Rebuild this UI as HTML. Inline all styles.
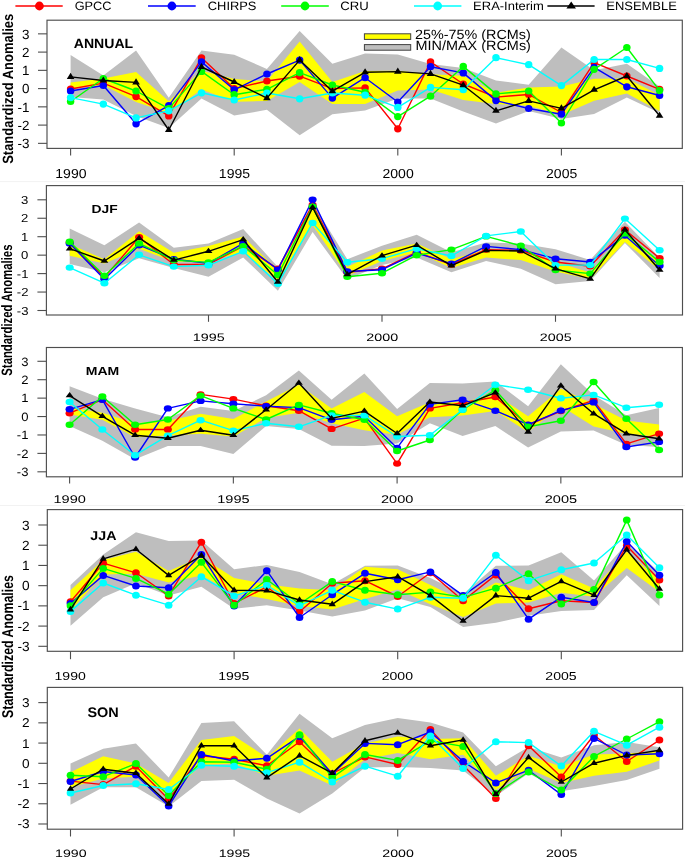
<!DOCTYPE html><html><head><meta charset="utf-8"><style>html,body{margin:0;padding:0;background:#fff;}svg{display:block;filter:blur(0.4px);}text{text-rendering:geometricPrecision;font-family:'Liberation Sans', sans-serif;fill:#000;stroke:#000;stroke-width:0.0px;}</style></head><body>
<svg width="685" height="859" viewBox="0 0 685 859">
<rect x="0" y="0" width="685" height="859" fill="#fff"/>
<line x1="0" y1="181.6" x2="685" y2="181.6" stroke="#f2f2f2" stroke-width="1"/>
<line x1="0" y1="505.5" x2="685" y2="505.5" stroke="#f2f2f2" stroke-width="1"/>
<line x1="15.4" y1="6.0" x2="62.7" y2="6.0" stroke="#ff0000" stroke-width="1.5"/>
<circle cx="39.4" cy="6" r="4.4" fill="#ff0000"/>
<text x="74.71" y="10" font-size="12.08" textLength="36.81" lengthAdjust="spacingAndGlyphs">GPCC</text>
<line x1="148.0" y1="6.0" x2="195.7" y2="6.0" stroke="#0000ff" stroke-width="1.5"/>
<circle cx="171.9" cy="6" r="4.4" fill="#0000ff"/>
<text x="207.79" y="10" font-size="12.08" textLength="48.67" lengthAdjust="spacingAndGlyphs">CHIRPS</text>
<line x1="281.2" y1="6.0" x2="328.8" y2="6.0" stroke="#00ff00" stroke-width="1.5"/>
<circle cx="305" cy="6" r="4.4" fill="#00ff00"/>
<text x="340.3" y="10" font-size="12.08" textLength="28.43" lengthAdjust="spacingAndGlyphs">CRU</text>
<line x1="414.0" y1="6.0" x2="461.4" y2="6.0" stroke="#00ffff" stroke-width="1.5"/>
<circle cx="437.7" cy="6" r="4.4" fill="#00ffff"/>
<text x="473.12" y="10" font-size="12.08" textLength="70.67" lengthAdjust="spacingAndGlyphs">ERA-Interim</text>
<line x1="547.4" y1="6.0" x2="594.6" y2="6.0" stroke="#000000" stroke-width="1.5"/>
<polygon points="571.2,1.4 576,8.4 566.4,8.4" fill="#000"/>
<text x="606.34" y="10" font-size="12.08" textLength="70.52" lengthAdjust="spacingAndGlyphs">ENSEMBLE</text>
<polygon points="70.6,54.9 103.32,75.5 136.04,50.5 168.76,97.7 201.48,50.5 234.2,54.7 266.92,68.9 299.64,31 332.36,63.8 365.08,53.6 397.8,54.6 430.52,64.1 463.24,68 495.96,80.4 528.68,84.8 561.4,47.6 594.12,70.3 626.84,63.7 659.56,86.4 659.56,113 626.84,97.5 594.12,113.9 561.4,119 528.68,111.1 495.96,123.4 463.24,111.5 430.52,98.4 397.8,98.4 365.08,110.5 332.36,114.2 299.64,135.3 266.92,109.8 234.2,115.6 201.48,98.4 168.76,128 136.04,116 103.32,99.5 70.6,96.9" fill="#bebebe"/>
<polygon points="70.6,82.4 103.32,78.5 136.04,71.9 168.76,101.3 201.48,70.7 234.2,79.1 266.92,81.3 299.64,41.6 332.36,82 365.08,71.1 397.8,70.7 430.52,74.3 463.24,75.8 495.96,92.7 528.68,87.4 561.4,86.4 594.12,78.8 626.84,78.5 659.56,95 659.56,111.1 626.84,93.5 594.12,100.7 561.4,114.9 528.68,105.8 495.96,104.1 463.24,99.9 430.52,89.6 397.8,90.4 365.08,103.9 332.36,103.9 299.64,82 266.92,101 234.2,101.8 201.48,89.6 168.76,113 136.04,102 103.32,85.1 70.6,88.4" fill="#ffff00"/>
<polyline points="70.6,89 103.32,83.1 136.04,96.6 168.76,115.9 201.48,57.8 234.2,88.6 266.92,81 299.64,76.2 332.36,88.6 365.08,87.9 397.8,128.8 430.52,61.9 463.24,84 495.96,97.1 528.68,94.5 561.4,112.5 594.12,62.7 626.84,76 659.56,89.3" fill="none" stroke="#ff0000" stroke-width="1.4" stroke-linejoin="round"/>
<ellipse cx="70.6" cy="89" rx="3.75" ry="3.6" fill="#ff0000"/>
<ellipse cx="103.32" cy="83.1" rx="3.75" ry="3.6" fill="#ff0000"/>
<ellipse cx="136.04" cy="96.6" rx="3.75" ry="3.6" fill="#ff0000"/>
<ellipse cx="168.76" cy="115.9" rx="3.75" ry="3.6" fill="#ff0000"/>
<ellipse cx="201.48" cy="57.8" rx="3.75" ry="3.6" fill="#ff0000"/>
<ellipse cx="234.2" cy="88.6" rx="3.75" ry="3.6" fill="#ff0000"/>
<ellipse cx="266.92" cy="81" rx="3.75" ry="3.6" fill="#ff0000"/>
<ellipse cx="299.64" cy="76.2" rx="3.75" ry="3.6" fill="#ff0000"/>
<ellipse cx="332.36" cy="88.6" rx="3.75" ry="3.6" fill="#ff0000"/>
<ellipse cx="365.08" cy="87.9" rx="3.75" ry="3.6" fill="#ff0000"/>
<ellipse cx="397.8" cy="128.8" rx="3.75" ry="3.6" fill="#ff0000"/>
<ellipse cx="430.52" cy="61.9" rx="3.75" ry="3.6" fill="#ff0000"/>
<ellipse cx="463.24" cy="84" rx="3.75" ry="3.6" fill="#ff0000"/>
<ellipse cx="495.96" cy="97.1" rx="3.75" ry="3.6" fill="#ff0000"/>
<ellipse cx="528.68" cy="94.5" rx="3.75" ry="3.6" fill="#ff0000"/>
<ellipse cx="561.4" cy="112.5" rx="3.75" ry="3.6" fill="#ff0000"/>
<ellipse cx="594.12" cy="62.7" rx="3.75" ry="3.6" fill="#ff0000"/>
<ellipse cx="626.84" cy="76" rx="3.75" ry="3.6" fill="#ff0000"/>
<ellipse cx="659.56" cy="89.3" rx="3.75" ry="3.6" fill="#ff0000"/>
<polyline points="70.6,91 103.32,85.5 136.04,123.8 168.76,105.7 201.48,61.9 234.2,89.8 266.92,74 299.64,60.1 332.36,98.1 365.08,77.7 397.8,102 430.52,66.7 463.24,72.9 495.96,100.6 528.68,108.5 561.4,114.2 594.12,67.4 626.84,86.8 659.56,95.5" fill="none" stroke="#0000ff" stroke-width="1.4" stroke-linejoin="round"/>
<ellipse cx="70.6" cy="91" rx="3.75" ry="3.6" fill="#0000ff"/>
<ellipse cx="103.32" cy="85.5" rx="3.75" ry="3.6" fill="#0000ff"/>
<ellipse cx="136.04" cy="123.8" rx="3.75" ry="3.6" fill="#0000ff"/>
<ellipse cx="168.76" cy="105.7" rx="3.75" ry="3.6" fill="#0000ff"/>
<ellipse cx="201.48" cy="61.9" rx="3.75" ry="3.6" fill="#0000ff"/>
<ellipse cx="234.2" cy="89.8" rx="3.75" ry="3.6" fill="#0000ff"/>
<ellipse cx="266.92" cy="74" rx="3.75" ry="3.6" fill="#0000ff"/>
<ellipse cx="299.64" cy="60.1" rx="3.75" ry="3.6" fill="#0000ff"/>
<ellipse cx="332.36" cy="98.1" rx="3.75" ry="3.6" fill="#0000ff"/>
<ellipse cx="365.08" cy="77.7" rx="3.75" ry="3.6" fill="#0000ff"/>
<ellipse cx="397.8" cy="102" rx="3.75" ry="3.6" fill="#0000ff"/>
<ellipse cx="430.52" cy="66.7" rx="3.75" ry="3.6" fill="#0000ff"/>
<ellipse cx="463.24" cy="72.9" rx="3.75" ry="3.6" fill="#0000ff"/>
<ellipse cx="495.96" cy="100.6" rx="3.75" ry="3.6" fill="#0000ff"/>
<ellipse cx="528.68" cy="108.5" rx="3.75" ry="3.6" fill="#0000ff"/>
<ellipse cx="561.4" cy="114.2" rx="3.75" ry="3.6" fill="#0000ff"/>
<ellipse cx="594.12" cy="67.4" rx="3.75" ry="3.6" fill="#0000ff"/>
<ellipse cx="626.84" cy="86.8" rx="3.75" ry="3.6" fill="#0000ff"/>
<ellipse cx="659.56" cy="95.5" rx="3.75" ry="3.6" fill="#0000ff"/>
<polyline points="70.6,101.5 103.32,78.5 136.04,91 168.76,108.6 201.48,71.4 234.2,94.7 266.92,89.3 299.64,72.6 332.36,85 365.08,92.3 397.8,116.6 430.52,96.2 463.24,66.4 495.96,93.9 528.68,91 561.4,123 594.12,69.3 626.84,47.5 659.56,90.6" fill="none" stroke="#00ff00" stroke-width="1.4" stroke-linejoin="round"/>
<ellipse cx="70.6" cy="101.5" rx="3.75" ry="3.6" fill="#00ff00"/>
<ellipse cx="103.32" cy="78.5" rx="3.75" ry="3.6" fill="#00ff00"/>
<ellipse cx="136.04" cy="91" rx="3.75" ry="3.6" fill="#00ff00"/>
<ellipse cx="168.76" cy="108.6" rx="3.75" ry="3.6" fill="#00ff00"/>
<ellipse cx="201.48" cy="71.4" rx="3.75" ry="3.6" fill="#00ff00"/>
<ellipse cx="234.2" cy="94.7" rx="3.75" ry="3.6" fill="#00ff00"/>
<ellipse cx="266.92" cy="89.3" rx="3.75" ry="3.6" fill="#00ff00"/>
<ellipse cx="299.64" cy="72.6" rx="3.75" ry="3.6" fill="#00ff00"/>
<ellipse cx="332.36" cy="85" rx="3.75" ry="3.6" fill="#00ff00"/>
<ellipse cx="365.08" cy="92.3" rx="3.75" ry="3.6" fill="#00ff00"/>
<ellipse cx="397.8" cy="116.6" rx="3.75" ry="3.6" fill="#00ff00"/>
<ellipse cx="430.52" cy="96.2" rx="3.75" ry="3.6" fill="#00ff00"/>
<ellipse cx="463.24" cy="66.4" rx="3.75" ry="3.6" fill="#00ff00"/>
<ellipse cx="495.96" cy="93.9" rx="3.75" ry="3.6" fill="#00ff00"/>
<ellipse cx="528.68" cy="91" rx="3.75" ry="3.6" fill="#00ff00"/>
<ellipse cx="561.4" cy="123" rx="3.75" ry="3.6" fill="#00ff00"/>
<ellipse cx="594.12" cy="69.3" rx="3.75" ry="3.6" fill="#00ff00"/>
<ellipse cx="626.84" cy="47.5" rx="3.75" ry="3.6" fill="#00ff00"/>
<ellipse cx="659.56" cy="90.6" rx="3.75" ry="3.6" fill="#00ff00"/>
<polyline points="70.6,97.6 103.32,104.1 136.04,117.9 168.76,110.8 201.48,92.8 234.2,100 266.92,93 299.64,98.8 332.36,93 365.08,95.2 397.8,107.4 430.52,87.4 463.24,89.7 495.96,57.7 528.68,64.7 561.4,85.6 594.12,59.5 626.84,59.5 659.56,68.4" fill="none" stroke="#00ffff" stroke-width="1.4" stroke-linejoin="round"/>
<ellipse cx="70.6" cy="97.6" rx="3.75" ry="3.6" fill="#00ffff"/>
<ellipse cx="103.32" cy="104.1" rx="3.75" ry="3.6" fill="#00ffff"/>
<ellipse cx="136.04" cy="117.9" rx="3.75" ry="3.6" fill="#00ffff"/>
<ellipse cx="168.76" cy="110.8" rx="3.75" ry="3.6" fill="#00ffff"/>
<ellipse cx="201.48" cy="92.8" rx="3.75" ry="3.6" fill="#00ffff"/>
<ellipse cx="234.2" cy="100" rx="3.75" ry="3.6" fill="#00ffff"/>
<ellipse cx="266.92" cy="93" rx="3.75" ry="3.6" fill="#00ffff"/>
<ellipse cx="299.64" cy="98.8" rx="3.75" ry="3.6" fill="#00ffff"/>
<ellipse cx="332.36" cy="93" rx="3.75" ry="3.6" fill="#00ffff"/>
<ellipse cx="365.08" cy="95.2" rx="3.75" ry="3.6" fill="#00ffff"/>
<ellipse cx="397.8" cy="107.4" rx="3.75" ry="3.6" fill="#00ffff"/>
<ellipse cx="430.52" cy="87.4" rx="3.75" ry="3.6" fill="#00ffff"/>
<ellipse cx="463.24" cy="89.7" rx="3.75" ry="3.6" fill="#00ffff"/>
<ellipse cx="495.96" cy="57.7" rx="3.75" ry="3.6" fill="#00ffff"/>
<ellipse cx="528.68" cy="64.7" rx="3.75" ry="3.6" fill="#00ffff"/>
<ellipse cx="561.4" cy="85.6" rx="3.75" ry="3.6" fill="#00ffff"/>
<ellipse cx="594.12" cy="59.5" rx="3.75" ry="3.6" fill="#00ffff"/>
<ellipse cx="626.84" cy="59.5" rx="3.75" ry="3.6" fill="#00ffff"/>
<ellipse cx="659.56" cy="68.4" rx="3.75" ry="3.6" fill="#00ffff"/>
<polyline points="70.6,76.9 103.32,80.5 136.04,82.4 168.76,130 201.48,67 234.2,82 266.92,98.1 299.64,60.1 332.36,91.2 365.08,72.3 397.8,71.6 430.52,73.9 463.24,85.2 495.96,110.8 528.68,100.9 561.4,108.4 594.12,89.8 626.84,76 659.56,115.8" fill="none" stroke="#000000" stroke-width="1.4" stroke-linejoin="round"/>
<polygon points="70.6,72.83 74.4,78.93 66.8,78.93" fill="#000"/>
<polygon points="103.32,76.43 107.12,82.53 99.52,82.53" fill="#000"/>
<polygon points="136.04,78.33 139.84,84.43 132.24,84.43" fill="#000"/>
<polygon points="168.76,125.93 172.56,132.03 164.96,132.03" fill="#000"/>
<polygon points="201.48,62.93 205.28,69.03 197.68,69.03" fill="#000"/>
<polygon points="234.2,77.93 238,84.03 230.4,84.03" fill="#000"/>
<polygon points="266.92,94.03 270.72,100.13 263.12,100.13" fill="#000"/>
<polygon points="299.64,56.03 303.44,62.13 295.84,62.13" fill="#000"/>
<polygon points="332.36,87.13 336.16,93.23 328.56,93.23" fill="#000"/>
<polygon points="365.08,68.23 368.88,74.33 361.28,74.33" fill="#000"/>
<polygon points="397.8,67.53 401.6,73.63 394,73.63" fill="#000"/>
<polygon points="430.52,69.83 434.32,75.93 426.72,75.93" fill="#000"/>
<polygon points="463.24,81.13 467.04,87.23 459.44,87.23" fill="#000"/>
<polygon points="495.96,106.73 499.76,112.83 492.16,112.83" fill="#000"/>
<polygon points="528.68,96.83 532.48,102.93 524.88,102.93" fill="#000"/>
<polygon points="561.4,104.33 565.2,110.43 557.6,110.43" fill="#000"/>
<polygon points="594.12,85.73 597.92,91.83 590.32,91.83" fill="#000"/>
<polygon points="626.84,71.93 630.64,78.03 623.04,78.03" fill="#000"/>
<polygon points="659.56,111.73 663.36,117.83 655.76,117.83" fill="#000"/>
<rect x="47" y="20.2" width="635.3" height="128.2" fill="none" stroke="#4e4e4e" stroke-width="1.15"/>
<line x1="38" y1="143.35" x2="47" y2="143.35" stroke="#4e4e4e" stroke-width="1.1"/>
<text x="17.45" y="148.13" font-size="13.3" textLength="11.94" lengthAdjust="spacingAndGlyphs">-3</text>
<line x1="38" y1="125.1" x2="47" y2="125.1" stroke="#4e4e4e" stroke-width="1.1"/>
<text x="17.45" y="129.88" font-size="13.3" textLength="11.94" lengthAdjust="spacingAndGlyphs">-2</text>
<line x1="38" y1="106.85" x2="47" y2="106.85" stroke="#4e4e4e" stroke-width="1.1"/>
<text x="17.45" y="111.63" font-size="13.3" textLength="11.94" lengthAdjust="spacingAndGlyphs">-1</text>
<line x1="38" y1="88.6" x2="47" y2="88.6" stroke="#4e4e4e" stroke-width="1.1"/>
<text x="21.92" y="93.38" font-size="13.3" textLength="7.47" lengthAdjust="spacingAndGlyphs">0</text>
<line x1="38" y1="70.35" x2="47" y2="70.35" stroke="#4e4e4e" stroke-width="1.1"/>
<text x="21.92" y="75.13" font-size="13.3" textLength="7.47" lengthAdjust="spacingAndGlyphs">1</text>
<line x1="38" y1="52.1" x2="47" y2="52.1" stroke="#4e4e4e" stroke-width="1.1"/>
<text x="21.92" y="56.88" font-size="13.3" textLength="7.47" lengthAdjust="spacingAndGlyphs">2</text>
<line x1="38" y1="33.85" x2="47" y2="33.85" stroke="#4e4e4e" stroke-width="1.1"/>
<text x="21.92" y="38.63" font-size="13.3" textLength="7.47" lengthAdjust="spacingAndGlyphs">3</text>
<line x1="70.6" y1="148.4" x2="70.6" y2="155.6" stroke="#4e4e4e" stroke-width="1.1"/>
<text x="55.27" y="178.18" font-size="13.08" textLength="31.22" lengthAdjust="spacingAndGlyphs">1990</text>
<line x1="234.2" y1="148.4" x2="234.2" y2="155.6" stroke="#4e4e4e" stroke-width="1.1"/>
<text x="218.87" y="178.18" font-size="13.08" textLength="31.22" lengthAdjust="spacingAndGlyphs">1995</text>
<line x1="397.8" y1="148.4" x2="397.8" y2="155.6" stroke="#4e4e4e" stroke-width="1.1"/>
<text x="382.47" y="178.18" font-size="13.08" textLength="31.22" lengthAdjust="spacingAndGlyphs">2000</text>
<line x1="561.4" y1="148.4" x2="561.4" y2="155.6" stroke="#4e4e4e" stroke-width="1.1"/>
<text x="546.07" y="178.18" font-size="13.08" textLength="31.22" lengthAdjust="spacingAndGlyphs">2005</text>
<text x="73.8" y="48.1" font-size="13.35" textLength="59.42" lengthAdjust="spacingAndGlyphs" font-weight="bold">ANNUAL</text>
<polygon points="69.7,228.5 104.4,245.2 139.1,222.4 173.8,247.8 208.5,243.4 243.2,228.9 277.9,267 312.6,203.1 347.3,259.2 382,245.7 416.7,234.7 451.4,252.2 486.1,242.6 520.8,243.4 555.5,249.3 590.2,259.9 624.9,221.8 659.6,257.7 659.6,277.9 624.9,242.9 590.2,281 555.5,284.2 520.8,268.8 486.1,261 451.4,272.3 416.7,257.4 382,265 347.3,279.3 312.6,232 277.9,290.7 243.2,257.4 208.5,276.7 173.8,268 139.1,258.3 104.4,272.3 69.7,264" fill="#bebebe"/>
<polygon points="69.7,244.3 104.4,259.2 139.1,231.2 173.8,252.7 208.5,246.1 243.2,236.4 277.9,270.6 312.6,207.5 347.3,267.1 382,250.4 416.7,243.4 451.4,259.2 486.1,249.6 520.8,250.4 555.5,262 590.2,272.6 624.9,232.3 659.6,262 659.6,270 624.9,241.9 590.2,278.9 555.5,271.5 520.8,260.1 486.1,257.5 451.4,268 416.7,252.2 382,261 347.3,275.8 312.6,225 277.9,281.1 243.2,252.2 208.5,261 173.8,261.8 139.1,248.7 104.4,263.6 69.7,255.7" fill="#ffff00"/>
<polyline points="69.7,242.6 104.4,277.5 139.1,237.3 173.8,264.5 208.5,264.5 243.2,246.1 277.9,268.8 312.6,204.9 347.3,272.3 382,268.8 416.7,252.2 451.4,264.5 486.1,249.6 520.8,250.4 555.5,262 590.2,266.2 624.9,229.8 659.6,258.2" fill="none" stroke="#ff0000" stroke-width="1.4" stroke-linejoin="round"/>
<ellipse cx="69.7" cy="242.6" rx="4.05" ry="3.2" fill="#ff0000"/>
<ellipse cx="104.4" cy="277.5" rx="4.05" ry="3.2" fill="#ff0000"/>
<ellipse cx="139.1" cy="237.3" rx="4.05" ry="3.2" fill="#ff0000"/>
<ellipse cx="173.8" cy="264.5" rx="4.05" ry="3.2" fill="#ff0000"/>
<ellipse cx="208.5" cy="264.5" rx="4.05" ry="3.2" fill="#ff0000"/>
<ellipse cx="243.2" cy="246.1" rx="4.05" ry="3.2" fill="#ff0000"/>
<ellipse cx="277.9" cy="268.8" rx="4.05" ry="3.2" fill="#ff0000"/>
<ellipse cx="312.6" cy="204.9" rx="4.05" ry="3.2" fill="#ff0000"/>
<ellipse cx="347.3" cy="272.3" rx="4.05" ry="3.2" fill="#ff0000"/>
<ellipse cx="382" cy="268.8" rx="4.05" ry="3.2" fill="#ff0000"/>
<ellipse cx="416.7" cy="252.2" rx="4.05" ry="3.2" fill="#ff0000"/>
<ellipse cx="451.4" cy="264.5" rx="4.05" ry="3.2" fill="#ff0000"/>
<ellipse cx="486.1" cy="249.6" rx="4.05" ry="3.2" fill="#ff0000"/>
<ellipse cx="520.8" cy="250.4" rx="4.05" ry="3.2" fill="#ff0000"/>
<ellipse cx="555.5" cy="262" rx="4.05" ry="3.2" fill="#ff0000"/>
<ellipse cx="590.2" cy="266.2" rx="4.05" ry="3.2" fill="#ff0000"/>
<ellipse cx="624.9" cy="229.8" rx="4.05" ry="3.2" fill="#ff0000"/>
<ellipse cx="659.6" cy="258.2" rx="4.05" ry="3.2" fill="#ff0000"/>
<polyline points="69.7,243.4 104.4,279.3 139.1,245.2 173.8,259.2 208.5,263.3 243.2,243.4 277.9,269.7 312.6,199.6 347.3,271.5 382,269.7 416.7,253.1 451.4,263.6 486.1,246.4 520.8,249.6 555.5,258.8 590.2,262 624.9,235.5 659.6,265.8" fill="none" stroke="#0000ff" stroke-width="1.4" stroke-linejoin="round"/>
<ellipse cx="69.7" cy="243.4" rx="4.05" ry="3.2" fill="#0000ff"/>
<ellipse cx="104.4" cy="279.3" rx="4.05" ry="3.2" fill="#0000ff"/>
<ellipse cx="139.1" cy="245.2" rx="4.05" ry="3.2" fill="#0000ff"/>
<ellipse cx="173.8" cy="259.2" rx="4.05" ry="3.2" fill="#0000ff"/>
<ellipse cx="208.5" cy="263.3" rx="4.05" ry="3.2" fill="#0000ff"/>
<ellipse cx="243.2" cy="243.4" rx="4.05" ry="3.2" fill="#0000ff"/>
<ellipse cx="277.9" cy="269.7" rx="4.05" ry="3.2" fill="#0000ff"/>
<ellipse cx="312.6" cy="199.6" rx="4.05" ry="3.2" fill="#0000ff"/>
<ellipse cx="347.3" cy="271.5" rx="4.05" ry="3.2" fill="#0000ff"/>
<ellipse cx="382" cy="269.7" rx="4.05" ry="3.2" fill="#0000ff"/>
<ellipse cx="416.7" cy="253.1" rx="4.05" ry="3.2" fill="#0000ff"/>
<ellipse cx="451.4" cy="263.6" rx="4.05" ry="3.2" fill="#0000ff"/>
<ellipse cx="486.1" cy="246.4" rx="4.05" ry="3.2" fill="#0000ff"/>
<ellipse cx="520.8" cy="249.6" rx="4.05" ry="3.2" fill="#0000ff"/>
<ellipse cx="555.5" cy="258.8" rx="4.05" ry="3.2" fill="#0000ff"/>
<ellipse cx="590.2" cy="262" rx="4.05" ry="3.2" fill="#0000ff"/>
<ellipse cx="624.9" cy="235.5" rx="4.05" ry="3.2" fill="#0000ff"/>
<ellipse cx="659.6" cy="265.8" rx="4.05" ry="3.2" fill="#0000ff"/>
<polyline points="69.7,241.7 104.4,275.8 139.1,243.4 173.8,260.1 208.5,262.4 243.2,246.1 277.9,275 312.6,206.6 347.3,276.7 382,273.2 416.7,255.2 451.4,249.6 486.1,236.4 520.8,245.7 555.5,270 590.2,273.6 624.9,233.4 659.6,262" fill="none" stroke="#00ff00" stroke-width="1.4" stroke-linejoin="round"/>
<ellipse cx="69.7" cy="241.7" rx="4.05" ry="3.2" fill="#00ff00"/>
<ellipse cx="104.4" cy="275.8" rx="4.05" ry="3.2" fill="#00ff00"/>
<ellipse cx="139.1" cy="243.4" rx="4.05" ry="3.2" fill="#00ff00"/>
<ellipse cx="173.8" cy="260.1" rx="4.05" ry="3.2" fill="#00ff00"/>
<ellipse cx="208.5" cy="262.4" rx="4.05" ry="3.2" fill="#00ff00"/>
<ellipse cx="243.2" cy="246.1" rx="4.05" ry="3.2" fill="#00ff00"/>
<ellipse cx="277.9" cy="275" rx="4.05" ry="3.2" fill="#00ff00"/>
<ellipse cx="312.6" cy="206.6" rx="4.05" ry="3.2" fill="#00ff00"/>
<ellipse cx="347.3" cy="276.7" rx="4.05" ry="3.2" fill="#00ff00"/>
<ellipse cx="382" cy="273.2" rx="4.05" ry="3.2" fill="#00ff00"/>
<ellipse cx="416.7" cy="255.2" rx="4.05" ry="3.2" fill="#00ff00"/>
<ellipse cx="451.4" cy="249.6" rx="4.05" ry="3.2" fill="#00ff00"/>
<ellipse cx="486.1" cy="236.4" rx="4.05" ry="3.2" fill="#00ff00"/>
<ellipse cx="520.8" cy="245.7" rx="4.05" ry="3.2" fill="#00ff00"/>
<ellipse cx="555.5" cy="270" rx="4.05" ry="3.2" fill="#00ff00"/>
<ellipse cx="590.2" cy="273.6" rx="4.05" ry="3.2" fill="#00ff00"/>
<ellipse cx="624.9" cy="233.4" rx="4.05" ry="3.2" fill="#00ff00"/>
<ellipse cx="659.6" cy="262" rx="4.05" ry="3.2" fill="#00ff00"/>
<polyline points="69.7,267.6 104.4,283.2 139.1,254.8 173.8,266.6 208.5,265.3 243.2,251.3 277.9,283.7 312.6,222.9 347.3,262.2 382,258.7 416.7,248.7 451.4,256 486.1,235.9 520.8,231.5 555.5,265.1 590.2,265.1 624.9,218.6 659.6,250.3" fill="none" stroke="#00ffff" stroke-width="1.4" stroke-linejoin="round"/>
<ellipse cx="69.7" cy="267.6" rx="4.05" ry="3.2" fill="#00ffff"/>
<ellipse cx="104.4" cy="283.2" rx="4.05" ry="3.2" fill="#00ffff"/>
<ellipse cx="139.1" cy="254.8" rx="4.05" ry="3.2" fill="#00ffff"/>
<ellipse cx="173.8" cy="266.6" rx="4.05" ry="3.2" fill="#00ffff"/>
<ellipse cx="208.5" cy="265.3" rx="4.05" ry="3.2" fill="#00ffff"/>
<ellipse cx="243.2" cy="251.3" rx="4.05" ry="3.2" fill="#00ffff"/>
<ellipse cx="277.9" cy="283.7" rx="4.05" ry="3.2" fill="#00ffff"/>
<ellipse cx="312.6" cy="222.9" rx="4.05" ry="3.2" fill="#00ffff"/>
<ellipse cx="347.3" cy="262.2" rx="4.05" ry="3.2" fill="#00ffff"/>
<ellipse cx="382" cy="258.7" rx="4.05" ry="3.2" fill="#00ffff"/>
<ellipse cx="416.7" cy="248.7" rx="4.05" ry="3.2" fill="#00ffff"/>
<ellipse cx="451.4" cy="256" rx="4.05" ry="3.2" fill="#00ffff"/>
<ellipse cx="486.1" cy="235.9" rx="4.05" ry="3.2" fill="#00ffff"/>
<ellipse cx="520.8" cy="231.5" rx="4.05" ry="3.2" fill="#00ffff"/>
<ellipse cx="555.5" cy="265.1" rx="4.05" ry="3.2" fill="#00ffff"/>
<ellipse cx="590.2" cy="265.1" rx="4.05" ry="3.2" fill="#00ffff"/>
<ellipse cx="624.9" cy="218.6" rx="4.05" ry="3.2" fill="#00ffff"/>
<ellipse cx="659.6" cy="250.3" rx="4.05" ry="3.2" fill="#00ffff"/>
<polyline points="69.7,248.7 104.4,261 139.1,238.2 173.8,260.1 208.5,251.3 243.2,239.6 277.9,282 312.6,207.5 347.3,274.4 382,255.7 416.7,245.2 451.4,265.7 486.1,250.4 520.8,251 555.5,268.7 590.2,278.9 624.9,229.8 659.6,270" fill="none" stroke="#000000" stroke-width="1.4" stroke-linejoin="round"/>
<polygon points="69.7,245.2 73.65,250.47 65.75,250.47" fill="#000"/>
<polygon points="104.4,257.5 108.35,262.77 100.45,262.77" fill="#000"/>
<polygon points="139.1,234.7 143.05,239.97 135.15,239.97" fill="#000"/>
<polygon points="173.8,256.6 177.75,261.87 169.85,261.87" fill="#000"/>
<polygon points="208.5,247.8 212.45,253.07 204.55,253.07" fill="#000"/>
<polygon points="243.2,236.1 247.15,241.37 239.25,241.37" fill="#000"/>
<polygon points="277.9,278.5 281.85,283.77 273.95,283.77" fill="#000"/>
<polygon points="312.6,204 316.55,209.27 308.65,209.27" fill="#000"/>
<polygon points="347.3,270.9 351.25,276.17 343.35,276.17" fill="#000"/>
<polygon points="382,252.2 385.95,257.47 378.05,257.47" fill="#000"/>
<polygon points="416.7,241.7 420.65,246.97 412.75,246.97" fill="#000"/>
<polygon points="451.4,262.2 455.35,267.47 447.45,267.47" fill="#000"/>
<polygon points="486.1,246.9 490.05,252.17 482.15,252.17" fill="#000"/>
<polygon points="520.8,247.5 524.75,252.77 516.85,252.77" fill="#000"/>
<polygon points="555.5,265.2 559.45,270.47 551.55,270.47" fill="#000"/>
<polygon points="590.2,275.4 594.15,280.67 586.25,280.67" fill="#000"/>
<polygon points="624.9,226.3 628.85,231.57 620.95,231.57" fill="#000"/>
<polygon points="659.6,266.5 663.55,271.77 655.65,271.77" fill="#000"/>
<rect x="46.4" y="185.6" width="636.1" height="129.4" fill="none" stroke="#4e4e4e" stroke-width="1.15"/>
<line x1="37.4" y1="310.5" x2="46.4" y2="310.5" stroke="#4e4e4e" stroke-width="1.1"/>
<text x="16.77" y="314.59" font-size="11.6" textLength="11.65" lengthAdjust="spacingAndGlyphs">-3</text>
<line x1="37.4" y1="292.05" x2="46.4" y2="292.05" stroke="#4e4e4e" stroke-width="1.1"/>
<text x="16.77" y="296.14" font-size="11.6" textLength="11.65" lengthAdjust="spacingAndGlyphs">-2</text>
<line x1="37.4" y1="273.6" x2="46.4" y2="273.6" stroke="#4e4e4e" stroke-width="1.1"/>
<text x="16.77" y="277.69" font-size="11.6" textLength="11.65" lengthAdjust="spacingAndGlyphs">-1</text>
<line x1="37.4" y1="255.15" x2="46.4" y2="255.15" stroke="#4e4e4e" stroke-width="1.1"/>
<text x="21.14" y="259.24" font-size="11.6" textLength="7.29" lengthAdjust="spacingAndGlyphs">0</text>
<line x1="37.4" y1="236.7" x2="46.4" y2="236.7" stroke="#4e4e4e" stroke-width="1.1"/>
<text x="21.14" y="240.79" font-size="11.6" textLength="7.29" lengthAdjust="spacingAndGlyphs">1</text>
<line x1="37.4" y1="218.25" x2="46.4" y2="218.25" stroke="#4e4e4e" stroke-width="1.1"/>
<text x="21.14" y="222.34" font-size="11.6" textLength="7.29" lengthAdjust="spacingAndGlyphs">2</text>
<line x1="37.4" y1="199.8" x2="46.4" y2="199.8" stroke="#4e4e4e" stroke-width="1.1"/>
<text x="21.14" y="203.89" font-size="11.6" textLength="7.29" lengthAdjust="spacingAndGlyphs">3</text>
<line x1="208.5" y1="315" x2="208.5" y2="321.8" stroke="#4e4e4e" stroke-width="1.1"/>
<text x="192.8" y="341" font-size="10.87" textLength="31.87" lengthAdjust="spacingAndGlyphs">1995</text>
<line x1="382" y1="315" x2="382" y2="321.8" stroke="#4e4e4e" stroke-width="1.1"/>
<text x="366.3" y="341" font-size="10.87" textLength="31.87" lengthAdjust="spacingAndGlyphs">2000</text>
<line x1="555.5" y1="315" x2="555.5" y2="321.8" stroke="#4e4e4e" stroke-width="1.1"/>
<text x="539.8" y="341" font-size="10.87" textLength="31.87" lengthAdjust="spacingAndGlyphs">2005</text>
<text x="91.46" y="212.79" font-size="11.69" textLength="26.14" lengthAdjust="spacingAndGlyphs" font-weight="bold">DJF</text>
<polygon points="69.6,386.2 102.35,398.8 135.1,408.4 167.85,417.2 200.6,406.7 233.35,411.1 266.1,395.3 298.85,370.4 331.6,399.7 364.35,373.4 397.1,409 429.85,383 462.6,383.4 495.35,381.6 528.1,406.2 560.85,364.2 593.6,394.9 626.35,415.3 659.1,408.1 659.1,447 626.35,444.9 593.6,430.6 560.85,431.6 528.1,447.5 495.35,426 462.6,435.9 429.85,423.3 397.1,443.5 364.35,446.1 331.6,445.7 298.85,429 266.1,426 233.35,454 200.6,446.1 167.85,446.1 135.1,459.2 102.35,440.8 69.6,426" fill="#bebebe"/>
<polygon points="69.6,407.6 102.35,412.8 135.1,423.3 167.85,420.7 200.6,413.7 233.35,419 266.1,401.4 298.85,384.8 331.6,408.4 364.35,392.1 397.1,416.3 429.85,402.3 462.6,402.3 495.35,394.4 528.1,416.3 560.85,388.7 593.6,404 626.35,420.4 659.1,424.5 659.1,436.7 626.35,433.7 593.6,426.5 560.85,406.1 528.1,432 495.35,411.1 462.6,415.4 429.85,417.2 397.1,434.7 364.35,430.3 331.6,423.3 298.85,412.8 266.1,418.1 233.35,436.5 200.6,433.8 167.85,435.6 135.1,437.3 102.35,419.8 69.6,414.6" fill="#ffff00"/>
<polyline points="69.6,413.2 102.35,399.7 135.1,429.5 167.85,429.5 200.6,394.4 233.35,399.1 266.1,405.8 298.85,410.7 331.6,428.9 364.35,418.1 397.1,463.6 429.85,408.4 462.6,402.7 495.35,397 528.1,425 560.85,411 593.6,400.4 626.35,443.9 659.1,433.7" fill="none" stroke="#ff0000" stroke-width="1.4" stroke-linejoin="round"/>
<ellipse cx="69.6" cy="413.2" rx="4.05" ry="3.2" fill="#ff0000"/>
<ellipse cx="102.35" cy="399.7" rx="4.05" ry="3.2" fill="#ff0000"/>
<ellipse cx="135.1" cy="429.5" rx="4.05" ry="3.2" fill="#ff0000"/>
<ellipse cx="167.85" cy="429.5" rx="4.05" ry="3.2" fill="#ff0000"/>
<ellipse cx="200.6" cy="394.4" rx="4.05" ry="3.2" fill="#ff0000"/>
<ellipse cx="233.35" cy="399.1" rx="4.05" ry="3.2" fill="#ff0000"/>
<ellipse cx="266.1" cy="405.8" rx="4.05" ry="3.2" fill="#ff0000"/>
<ellipse cx="298.85" cy="410.7" rx="4.05" ry="3.2" fill="#ff0000"/>
<ellipse cx="331.6" cy="428.9" rx="4.05" ry="3.2" fill="#ff0000"/>
<ellipse cx="364.35" cy="418.1" rx="4.05" ry="3.2" fill="#ff0000"/>
<ellipse cx="397.1" cy="463.6" rx="4.05" ry="3.2" fill="#ff0000"/>
<ellipse cx="429.85" cy="408.4" rx="4.05" ry="3.2" fill="#ff0000"/>
<ellipse cx="462.6" cy="402.7" rx="4.05" ry="3.2" fill="#ff0000"/>
<ellipse cx="495.35" cy="397" rx="4.05" ry="3.2" fill="#ff0000"/>
<ellipse cx="528.1" cy="425" rx="4.05" ry="3.2" fill="#ff0000"/>
<ellipse cx="560.85" cy="411" rx="4.05" ry="3.2" fill="#ff0000"/>
<ellipse cx="593.6" cy="400.4" rx="4.05" ry="3.2" fill="#ff0000"/>
<ellipse cx="626.35" cy="443.9" rx="4.05" ry="3.2" fill="#ff0000"/>
<ellipse cx="659.1" cy="433.7" rx="4.05" ry="3.2" fill="#ff0000"/>
<polyline points="69.6,409.3 102.35,399.7 135.1,457.5 167.85,408.4 200.6,400.9 233.35,403.7 266.1,406.2 298.85,407.6 331.6,419.8 364.35,416.3 397.1,447.9 429.85,404.4 462.6,399.7 495.35,410.7 528.1,424.7 560.85,410.6 593.6,402.4 626.35,447 659.1,441.9" fill="none" stroke="#0000ff" stroke-width="1.4" stroke-linejoin="round"/>
<ellipse cx="69.6" cy="409.3" rx="4.05" ry="3.2" fill="#0000ff"/>
<ellipse cx="102.35" cy="399.7" rx="4.05" ry="3.2" fill="#0000ff"/>
<ellipse cx="135.1" cy="457.5" rx="4.05" ry="3.2" fill="#0000ff"/>
<ellipse cx="167.85" cy="408.4" rx="4.05" ry="3.2" fill="#0000ff"/>
<ellipse cx="200.6" cy="400.9" rx="4.05" ry="3.2" fill="#0000ff"/>
<ellipse cx="233.35" cy="403.7" rx="4.05" ry="3.2" fill="#0000ff"/>
<ellipse cx="266.1" cy="406.2" rx="4.05" ry="3.2" fill="#0000ff"/>
<ellipse cx="298.85" cy="407.6" rx="4.05" ry="3.2" fill="#0000ff"/>
<ellipse cx="331.6" cy="419.8" rx="4.05" ry="3.2" fill="#0000ff"/>
<ellipse cx="364.35" cy="416.3" rx="4.05" ry="3.2" fill="#0000ff"/>
<ellipse cx="397.1" cy="447.9" rx="4.05" ry="3.2" fill="#0000ff"/>
<ellipse cx="429.85" cy="404.4" rx="4.05" ry="3.2" fill="#0000ff"/>
<ellipse cx="462.6" cy="399.7" rx="4.05" ry="3.2" fill="#0000ff"/>
<ellipse cx="495.35" cy="410.7" rx="4.05" ry="3.2" fill="#0000ff"/>
<ellipse cx="528.1" cy="424.7" rx="4.05" ry="3.2" fill="#0000ff"/>
<ellipse cx="560.85" cy="410.6" rx="4.05" ry="3.2" fill="#0000ff"/>
<ellipse cx="593.6" cy="402.4" rx="4.05" ry="3.2" fill="#0000ff"/>
<ellipse cx="626.35" cy="447" rx="4.05" ry="3.2" fill="#0000ff"/>
<ellipse cx="659.1" cy="441.9" rx="4.05" ry="3.2" fill="#0000ff"/>
<polyline points="69.6,424.7 102.35,396.5 135.1,424.7 167.85,419.5 200.6,395.6 233.35,408.4 266.1,419.5 298.85,404.9 331.6,413.2 364.35,419.8 397.1,451 429.85,440 462.6,409.7 495.35,390 528.1,426.8 560.85,420.8 593.6,382 626.35,418.8 659.1,450" fill="none" stroke="#00ff00" stroke-width="1.4" stroke-linejoin="round"/>
<ellipse cx="69.6" cy="424.7" rx="4.05" ry="3.2" fill="#00ff00"/>
<ellipse cx="102.35" cy="396.5" rx="4.05" ry="3.2" fill="#00ff00"/>
<ellipse cx="135.1" cy="424.7" rx="4.05" ry="3.2" fill="#00ff00"/>
<ellipse cx="167.85" cy="419.5" rx="4.05" ry="3.2" fill="#00ff00"/>
<ellipse cx="200.6" cy="395.6" rx="4.05" ry="3.2" fill="#00ff00"/>
<ellipse cx="233.35" cy="408.4" rx="4.05" ry="3.2" fill="#00ff00"/>
<ellipse cx="266.1" cy="419.5" rx="4.05" ry="3.2" fill="#00ff00"/>
<ellipse cx="298.85" cy="404.9" rx="4.05" ry="3.2" fill="#00ff00"/>
<ellipse cx="331.6" cy="413.2" rx="4.05" ry="3.2" fill="#00ff00"/>
<ellipse cx="364.35" cy="419.8" rx="4.05" ry="3.2" fill="#00ff00"/>
<ellipse cx="397.1" cy="451" rx="4.05" ry="3.2" fill="#00ff00"/>
<ellipse cx="429.85" cy="440" rx="4.05" ry="3.2" fill="#00ff00"/>
<ellipse cx="462.6" cy="409.7" rx="4.05" ry="3.2" fill="#00ff00"/>
<ellipse cx="495.35" cy="390" rx="4.05" ry="3.2" fill="#00ff00"/>
<ellipse cx="528.1" cy="426.8" rx="4.05" ry="3.2" fill="#00ff00"/>
<ellipse cx="560.85" cy="420.8" rx="4.05" ry="3.2" fill="#00ff00"/>
<ellipse cx="593.6" cy="382" rx="4.05" ry="3.2" fill="#00ff00"/>
<ellipse cx="626.35" cy="418.8" rx="4.05" ry="3.2" fill="#00ff00"/>
<ellipse cx="659.1" cy="450" rx="4.05" ry="3.2" fill="#00ff00"/>
<polyline points="69.6,402 102.35,429.5 135.1,455.2 167.85,435.6 200.6,420.2 233.35,430.7 266.1,423.3 298.85,426.8 331.6,415.4 364.35,415.4 397.1,436.5 429.85,435.2 462.6,409.7 495.35,384.8 528.1,389.7 560.85,398.3 593.6,394.9 626.35,407.7 659.1,404.7" fill="none" stroke="#00ffff" stroke-width="1.4" stroke-linejoin="round"/>
<ellipse cx="69.6" cy="402" rx="4.05" ry="3.2" fill="#00ffff"/>
<ellipse cx="102.35" cy="429.5" rx="4.05" ry="3.2" fill="#00ffff"/>
<ellipse cx="135.1" cy="455.2" rx="4.05" ry="3.2" fill="#00ffff"/>
<ellipse cx="167.85" cy="435.6" rx="4.05" ry="3.2" fill="#00ffff"/>
<ellipse cx="200.6" cy="420.2" rx="4.05" ry="3.2" fill="#00ffff"/>
<ellipse cx="233.35" cy="430.7" rx="4.05" ry="3.2" fill="#00ffff"/>
<ellipse cx="266.1" cy="423.3" rx="4.05" ry="3.2" fill="#00ffff"/>
<ellipse cx="298.85" cy="426.8" rx="4.05" ry="3.2" fill="#00ffff"/>
<ellipse cx="331.6" cy="415.4" rx="4.05" ry="3.2" fill="#00ffff"/>
<ellipse cx="364.35" cy="415.4" rx="4.05" ry="3.2" fill="#00ffff"/>
<ellipse cx="397.1" cy="436.5" rx="4.05" ry="3.2" fill="#00ffff"/>
<ellipse cx="429.85" cy="435.2" rx="4.05" ry="3.2" fill="#00ffff"/>
<ellipse cx="462.6" cy="409.7" rx="4.05" ry="3.2" fill="#00ffff"/>
<ellipse cx="495.35" cy="384.8" rx="4.05" ry="3.2" fill="#00ffff"/>
<ellipse cx="528.1" cy="389.7" rx="4.05" ry="3.2" fill="#00ffff"/>
<ellipse cx="560.85" cy="398.3" rx="4.05" ry="3.2" fill="#00ffff"/>
<ellipse cx="593.6" cy="394.9" rx="4.05" ry="3.2" fill="#00ffff"/>
<ellipse cx="626.35" cy="407.7" rx="4.05" ry="3.2" fill="#00ffff"/>
<ellipse cx="659.1" cy="404.7" rx="4.05" ry="3.2" fill="#00ffff"/>
<polyline points="69.6,395.6 102.35,416.3 135.1,435.2 167.85,438.2 200.6,430.3 233.35,435.2 266.1,409.7 298.85,383 331.6,418.4 364.35,411.1 397.1,433.5 429.85,402 462.6,405.8 495.35,392.7 528.1,432.1 560.85,385.7 593.6,413.7 626.35,433.7 659.1,438.8" fill="none" stroke="#000000" stroke-width="1.4" stroke-linejoin="round"/>
<polygon points="69.6,392.1 73.55,397.37 65.65,397.37" fill="#000"/>
<polygon points="102.35,412.8 106.3,418.07 98.4,418.07" fill="#000"/>
<polygon points="135.1,431.7 139.05,436.97 131.15,436.97" fill="#000"/>
<polygon points="167.85,434.7 171.8,439.97 163.9,439.97" fill="#000"/>
<polygon points="200.6,426.8 204.55,432.07 196.65,432.07" fill="#000"/>
<polygon points="233.35,431.7 237.3,436.97 229.4,436.97" fill="#000"/>
<polygon points="266.1,406.2 270.05,411.47 262.15,411.47" fill="#000"/>
<polygon points="298.85,379.5 302.8,384.77 294.9,384.77" fill="#000"/>
<polygon points="331.6,414.9 335.55,420.17 327.65,420.17" fill="#000"/>
<polygon points="364.35,407.6 368.3,412.87 360.4,412.87" fill="#000"/>
<polygon points="397.1,430 401.05,435.27 393.15,435.27" fill="#000"/>
<polygon points="429.85,398.5 433.8,403.77 425.9,403.77" fill="#000"/>
<polygon points="462.6,402.3 466.55,407.57 458.65,407.57" fill="#000"/>
<polygon points="495.35,389.2 499.3,394.47 491.4,394.47" fill="#000"/>
<polygon points="528.1,428.6 532.05,433.87 524.15,433.87" fill="#000"/>
<polygon points="560.85,382.2 564.8,387.47 556.9,387.47" fill="#000"/>
<polygon points="593.6,410.2 597.55,415.47 589.65,415.47" fill="#000"/>
<polygon points="626.35,430.2 630.3,435.47 622.4,435.47" fill="#000"/>
<polygon points="659.1,435.3 663.05,440.57 655.15,440.57" fill="#000"/>
<rect x="46.4" y="347.5" width="636" height="129.3" fill="none" stroke="#4e4e4e" stroke-width="1.15"/>
<line x1="37.4" y1="471.81" x2="46.4" y2="471.81" stroke="#4e4e4e" stroke-width="1.1"/>
<text x="16.81" y="476.17" font-size="12.1" textLength="11.62" lengthAdjust="spacingAndGlyphs">-3</text>
<line x1="37.4" y1="453.39" x2="46.4" y2="453.39" stroke="#4e4e4e" stroke-width="1.1"/>
<text x="16.81" y="457.75" font-size="12.1" textLength="11.62" lengthAdjust="spacingAndGlyphs">-2</text>
<line x1="37.4" y1="434.97" x2="46.4" y2="434.97" stroke="#4e4e4e" stroke-width="1.1"/>
<text x="16.81" y="439.33" font-size="12.1" textLength="11.62" lengthAdjust="spacingAndGlyphs">-1</text>
<line x1="37.4" y1="416.55" x2="46.4" y2="416.55" stroke="#4e4e4e" stroke-width="1.1"/>
<text x="21.16" y="420.91" font-size="12.1" textLength="7.27" lengthAdjust="spacingAndGlyphs">0</text>
<line x1="37.4" y1="398.13" x2="46.4" y2="398.13" stroke="#4e4e4e" stroke-width="1.1"/>
<text x="21.16" y="402.49" font-size="12.1" textLength="7.27" lengthAdjust="spacingAndGlyphs">1</text>
<line x1="37.4" y1="379.71" x2="46.4" y2="379.71" stroke="#4e4e4e" stroke-width="1.1"/>
<text x="21.16" y="384.07" font-size="12.1" textLength="7.27" lengthAdjust="spacingAndGlyphs">2</text>
<line x1="37.4" y1="361.29" x2="46.4" y2="361.29" stroke="#4e4e4e" stroke-width="1.1"/>
<text x="21.16" y="365.65" font-size="12.1" textLength="7.27" lengthAdjust="spacingAndGlyphs">3</text>
<line x1="69.6" y1="476.8" x2="69.6" y2="483.6" stroke="#4e4e4e" stroke-width="1.1"/>
<text x="53.51" y="502.81" font-size="11.13" textLength="32.34" lengthAdjust="spacingAndGlyphs">1990</text>
<line x1="233.35" y1="476.8" x2="233.35" y2="483.6" stroke="#4e4e4e" stroke-width="1.1"/>
<text x="217.26" y="502.81" font-size="11.13" textLength="32.34" lengthAdjust="spacingAndGlyphs">1995</text>
<line x1="397.1" y1="476.8" x2="397.1" y2="483.6" stroke="#4e4e4e" stroke-width="1.1"/>
<text x="381.01" y="502.81" font-size="11.13" textLength="32.34" lengthAdjust="spacingAndGlyphs">2000</text>
<line x1="560.85" y1="476.8" x2="560.85" y2="483.6" stroke="#4e4e4e" stroke-width="1.1"/>
<text x="544.76" y="502.81" font-size="11.13" textLength="32.34" lengthAdjust="spacingAndGlyphs">2005</text>
<text x="85.76" y="374.98" font-size="11.77" textLength="33.5" lengthAdjust="spacingAndGlyphs" font-weight="bold">MAM</text>
<polygon points="70.5,585.1 103.22,554.4 135.94,532.2 168.66,540.9 201.38,540.4 234.1,569.3 266.82,564.9 299.54,571.9 332.26,584.2 364.98,565.8 397.7,565.5 430.42,578.1 463.14,594 495.86,565.8 528.58,565.5 561.3,552.2 594.02,580.4 626.74,543.6 659.46,572.2 659.46,605.9 626.74,575.3 594.02,610 561.3,611.1 528.58,615.7 495.86,622.7 463.14,627.1 430.42,607 397.7,598.2 364.98,610.5 332.26,616.6 299.54,610.5 266.82,605.2 234.1,608.7 201.38,586.8 168.66,595.6 135.94,583.3 103.22,597.3 70.5,625.7" fill="#bebebe"/>
<polygon points="70.5,590.3 103.22,560 135.94,551.8 168.66,571.1 201.38,557 234.1,578.1 266.82,584.2 299.54,588.6 332.26,590.3 364.98,566.7 397.7,569.3 430.42,585 463.14,600.8 495.86,582.4 528.58,590.3 561.3,574.3 594.02,588.6 626.74,551.8 659.46,580 659.46,592 626.74,568.1 594.02,596.7 561.3,592.7 528.58,602.6 495.86,603.5 463.14,617 430.42,604.3 397.7,589.5 364.98,599.1 332.26,609.6 299.54,606.1 266.82,599.1 234.1,593 201.38,575.4 168.66,582.4 135.94,573.7 103.22,574.6 70.5,610.5" fill="#ffff00"/>
<polyline points="70.5,601.7 103.22,563.2 135.94,572.8 168.66,595.9 201.38,542.2 234.1,603.5 266.82,586.8 299.54,611.7 332.26,583.3 364.98,580.7 397.7,596.5 430.42,572.8 463.14,600.8 495.86,574.9 528.58,608.7 561.3,600.8 594.02,602.5 626.74,545.7 659.46,580" fill="none" stroke="#ff0000" stroke-width="1.4" stroke-linejoin="round"/>
<ellipse cx="70.5" cy="601.7" rx="3.85" ry="3.5" fill="#ff0000"/>
<ellipse cx="103.22" cy="563.2" rx="3.85" ry="3.5" fill="#ff0000"/>
<ellipse cx="135.94" cy="572.8" rx="3.85" ry="3.5" fill="#ff0000"/>
<ellipse cx="168.66" cy="595.9" rx="3.85" ry="3.5" fill="#ff0000"/>
<ellipse cx="201.38" cy="542.2" rx="3.85" ry="3.5" fill="#ff0000"/>
<ellipse cx="234.1" cy="603.5" rx="3.85" ry="3.5" fill="#ff0000"/>
<ellipse cx="266.82" cy="586.8" rx="3.85" ry="3.5" fill="#ff0000"/>
<ellipse cx="299.54" cy="611.7" rx="3.85" ry="3.5" fill="#ff0000"/>
<ellipse cx="332.26" cy="583.3" rx="3.85" ry="3.5" fill="#ff0000"/>
<ellipse cx="364.98" cy="580.7" rx="3.85" ry="3.5" fill="#ff0000"/>
<ellipse cx="397.7" cy="596.5" rx="3.85" ry="3.5" fill="#ff0000"/>
<ellipse cx="430.42" cy="572.8" rx="3.85" ry="3.5" fill="#ff0000"/>
<ellipse cx="463.14" cy="600.8" rx="3.85" ry="3.5" fill="#ff0000"/>
<ellipse cx="495.86" cy="574.9" rx="3.85" ry="3.5" fill="#ff0000"/>
<ellipse cx="528.58" cy="608.7" rx="3.85" ry="3.5" fill="#ff0000"/>
<ellipse cx="561.3" cy="600.8" rx="3.85" ry="3.5" fill="#ff0000"/>
<ellipse cx="594.02" cy="602.5" rx="3.85" ry="3.5" fill="#ff0000"/>
<ellipse cx="626.74" cy="545.7" rx="3.85" ry="3.5" fill="#ff0000"/>
<ellipse cx="659.46" cy="580" rx="3.85" ry="3.5" fill="#ff0000"/>
<polyline points="70.5,603.5 103.22,575.4 135.94,586 168.66,587.7 201.38,554.4 234.1,606.1 266.82,570.7 299.54,617.5 332.26,594.7 364.98,573.3 397.7,579.8 430.42,571.9 463.14,595.6 495.86,572.5 528.58,619.2 561.3,597.2 594.02,602.5 626.74,541.6 659.46,575.3" fill="none" stroke="#0000ff" stroke-width="1.4" stroke-linejoin="round"/>
<ellipse cx="70.5" cy="603.5" rx="3.85" ry="3.5" fill="#0000ff"/>
<ellipse cx="103.22" cy="575.4" rx="3.85" ry="3.5" fill="#0000ff"/>
<ellipse cx="135.94" cy="586" rx="3.85" ry="3.5" fill="#0000ff"/>
<ellipse cx="168.66" cy="587.7" rx="3.85" ry="3.5" fill="#0000ff"/>
<ellipse cx="201.38" cy="554.4" rx="3.85" ry="3.5" fill="#0000ff"/>
<ellipse cx="234.1" cy="606.1" rx="3.85" ry="3.5" fill="#0000ff"/>
<ellipse cx="266.82" cy="570.7" rx="3.85" ry="3.5" fill="#0000ff"/>
<ellipse cx="299.54" cy="617.5" rx="3.85" ry="3.5" fill="#0000ff"/>
<ellipse cx="332.26" cy="594.7" rx="3.85" ry="3.5" fill="#0000ff"/>
<ellipse cx="364.98" cy="573.3" rx="3.85" ry="3.5" fill="#0000ff"/>
<ellipse cx="397.7" cy="579.8" rx="3.85" ry="3.5" fill="#0000ff"/>
<ellipse cx="430.42" cy="571.9" rx="3.85" ry="3.5" fill="#0000ff"/>
<ellipse cx="463.14" cy="595.6" rx="3.85" ry="3.5" fill="#0000ff"/>
<ellipse cx="495.86" cy="572.5" rx="3.85" ry="3.5" fill="#0000ff"/>
<ellipse cx="528.58" cy="619.2" rx="3.85" ry="3.5" fill="#0000ff"/>
<ellipse cx="561.3" cy="597.2" rx="3.85" ry="3.5" fill="#0000ff"/>
<ellipse cx="594.02" cy="602.5" rx="3.85" ry="3.5" fill="#0000ff"/>
<ellipse cx="626.74" cy="541.6" rx="3.85" ry="3.5" fill="#0000ff"/>
<ellipse cx="659.46" cy="575.3" rx="3.85" ry="3.5" fill="#0000ff"/>
<polyline points="70.5,605.7 103.22,568.4 135.94,578.4 168.66,594.2 201.38,562.3 234.1,605.2 266.82,579.5 299.54,604 332.26,581.6 364.98,590.3 397.7,594.7 430.42,592.1 463.14,597.3 495.86,588.2 528.58,573.7 561.3,603.9 594.02,589.6 626.74,520.1 659.46,595.1" fill="none" stroke="#00ff00" stroke-width="1.4" stroke-linejoin="round"/>
<ellipse cx="70.5" cy="605.7" rx="3.85" ry="3.5" fill="#00ff00"/>
<ellipse cx="103.22" cy="568.4" rx="3.85" ry="3.5" fill="#00ff00"/>
<ellipse cx="135.94" cy="578.4" rx="3.85" ry="3.5" fill="#00ff00"/>
<ellipse cx="168.66" cy="594.2" rx="3.85" ry="3.5" fill="#00ff00"/>
<ellipse cx="201.38" cy="562.3" rx="3.85" ry="3.5" fill="#00ff00"/>
<ellipse cx="234.1" cy="605.2" rx="3.85" ry="3.5" fill="#00ff00"/>
<ellipse cx="266.82" cy="579.5" rx="3.85" ry="3.5" fill="#00ff00"/>
<ellipse cx="299.54" cy="604" rx="3.85" ry="3.5" fill="#00ff00"/>
<ellipse cx="332.26" cy="581.6" rx="3.85" ry="3.5" fill="#00ff00"/>
<ellipse cx="364.98" cy="590.3" rx="3.85" ry="3.5" fill="#00ff00"/>
<ellipse cx="397.7" cy="594.7" rx="3.85" ry="3.5" fill="#00ff00"/>
<ellipse cx="430.42" cy="592.1" rx="3.85" ry="3.5" fill="#00ff00"/>
<ellipse cx="463.14" cy="597.3" rx="3.85" ry="3.5" fill="#00ff00"/>
<ellipse cx="495.86" cy="588.2" rx="3.85" ry="3.5" fill="#00ff00"/>
<ellipse cx="528.58" cy="573.7" rx="3.85" ry="3.5" fill="#00ff00"/>
<ellipse cx="561.3" cy="603.9" rx="3.85" ry="3.5" fill="#00ff00"/>
<ellipse cx="594.02" cy="589.6" rx="3.85" ry="3.5" fill="#00ff00"/>
<ellipse cx="626.74" cy="520.1" rx="3.85" ry="3.5" fill="#00ff00"/>
<ellipse cx="659.46" cy="595.1" rx="3.85" ry="3.5" fill="#00ff00"/>
<polyline points="70.5,611.4 103.22,583 135.94,595.2 168.66,605.2 201.38,576.7 234.1,595.9 266.82,585.4 299.54,605.7 332.26,590.3 364.98,602.2 397.7,609.1 430.42,597.3 463.14,598.2 495.86,555.3 528.58,580.7 561.3,569.8 594.02,563 626.74,535 659.46,567.7" fill="none" stroke="#00ffff" stroke-width="1.4" stroke-linejoin="round"/>
<ellipse cx="70.5" cy="611.4" rx="3.85" ry="3.5" fill="#00ffff"/>
<ellipse cx="103.22" cy="583" rx="3.85" ry="3.5" fill="#00ffff"/>
<ellipse cx="135.94" cy="595.2" rx="3.85" ry="3.5" fill="#00ffff"/>
<ellipse cx="168.66" cy="605.2" rx="3.85" ry="3.5" fill="#00ffff"/>
<ellipse cx="201.38" cy="576.7" rx="3.85" ry="3.5" fill="#00ffff"/>
<ellipse cx="234.1" cy="595.9" rx="3.85" ry="3.5" fill="#00ffff"/>
<ellipse cx="266.82" cy="585.4" rx="3.85" ry="3.5" fill="#00ffff"/>
<ellipse cx="299.54" cy="605.7" rx="3.85" ry="3.5" fill="#00ffff"/>
<ellipse cx="332.26" cy="590.3" rx="3.85" ry="3.5" fill="#00ffff"/>
<ellipse cx="364.98" cy="602.2" rx="3.85" ry="3.5" fill="#00ffff"/>
<ellipse cx="397.7" cy="609.1" rx="3.85" ry="3.5" fill="#00ffff"/>
<ellipse cx="430.42" cy="597.3" rx="3.85" ry="3.5" fill="#00ffff"/>
<ellipse cx="463.14" cy="598.2" rx="3.85" ry="3.5" fill="#00ffff"/>
<ellipse cx="495.86" cy="555.3" rx="3.85" ry="3.5" fill="#00ffff"/>
<ellipse cx="528.58" cy="580.7" rx="3.85" ry="3.5" fill="#00ffff"/>
<ellipse cx="561.3" cy="569.8" rx="3.85" ry="3.5" fill="#00ffff"/>
<ellipse cx="594.02" cy="563" rx="3.85" ry="3.5" fill="#00ffff"/>
<ellipse cx="626.74" cy="535" rx="3.85" ry="3.5" fill="#00ffff"/>
<ellipse cx="659.46" cy="567.7" rx="3.85" ry="3.5" fill="#00ffff"/>
<polyline points="70.5,609.6 103.22,558.8 135.94,549.2 168.66,575.4 201.38,555.6 234.1,590.3 266.82,590.7 299.54,600 332.26,604.3 364.98,581.6 397.7,576.7 430.42,595.6 463.14,621 495.86,595.6 528.58,598.2 561.3,581.4 594.02,595.1 626.74,549.7 659.46,589" fill="none" stroke="#000000" stroke-width="1.4" stroke-linejoin="round"/>
<polygon points="70.5,605.87 74.1,611.47 66.9,611.47" fill="#000"/>
<polygon points="103.22,555.07 106.82,560.67 99.62,560.67" fill="#000"/>
<polygon points="135.94,545.47 139.54,551.07 132.34,551.07" fill="#000"/>
<polygon points="168.66,571.67 172.26,577.27 165.06,577.27" fill="#000"/>
<polygon points="201.38,551.87 204.98,557.47 197.78,557.47" fill="#000"/>
<polygon points="234.1,586.57 237.7,592.17 230.5,592.17" fill="#000"/>
<polygon points="266.82,586.97 270.42,592.57 263.22,592.57" fill="#000"/>
<polygon points="299.54,596.27 303.14,601.87 295.94,601.87" fill="#000"/>
<polygon points="332.26,600.57 335.86,606.17 328.66,606.17" fill="#000"/>
<polygon points="364.98,577.87 368.58,583.47 361.38,583.47" fill="#000"/>
<polygon points="397.7,572.97 401.3,578.57 394.1,578.57" fill="#000"/>
<polygon points="430.42,591.87 434.02,597.47 426.82,597.47" fill="#000"/>
<polygon points="463.14,617.27 466.74,622.87 459.54,622.87" fill="#000"/>
<polygon points="495.86,591.87 499.46,597.47 492.26,597.47" fill="#000"/>
<polygon points="528.58,594.47 532.18,600.07 524.98,600.07" fill="#000"/>
<polygon points="561.3,577.67 564.9,583.27 557.7,583.27" fill="#000"/>
<polygon points="594.02,591.37 597.62,596.97 590.42,596.97" fill="#000"/>
<polygon points="626.74,545.97 630.34,551.57 623.14,551.57" fill="#000"/>
<polygon points="659.46,585.27 663.06,590.87 655.86,590.87" fill="#000"/>
<rect x="47.3" y="509.6" width="635.3" height="141.7" fill="none" stroke="#4e4e4e" stroke-width="1.15"/>
<line x1="38.3" y1="646.31" x2="47.3" y2="646.31" stroke="#4e4e4e" stroke-width="1.1"/>
<text x="17.47" y="650.89" font-size="13.3" textLength="12.18" lengthAdjust="spacingAndGlyphs">-3</text>
<line x1="38.3" y1="626.09" x2="47.3" y2="626.09" stroke="#4e4e4e" stroke-width="1.1"/>
<text x="17.47" y="630.67" font-size="13.3" textLength="12.18" lengthAdjust="spacingAndGlyphs">-2</text>
<line x1="38.3" y1="605.87" x2="47.3" y2="605.87" stroke="#4e4e4e" stroke-width="1.1"/>
<text x="17.47" y="610.45" font-size="13.3" textLength="12.18" lengthAdjust="spacingAndGlyphs">-1</text>
<line x1="38.3" y1="585.65" x2="47.3" y2="585.65" stroke="#4e4e4e" stroke-width="1.1"/>
<text x="22.04" y="590.23" font-size="13.3" textLength="7.62" lengthAdjust="spacingAndGlyphs">0</text>
<line x1="38.3" y1="565.43" x2="47.3" y2="565.43" stroke="#4e4e4e" stroke-width="1.1"/>
<text x="22.04" y="570.01" font-size="13.3" textLength="7.62" lengthAdjust="spacingAndGlyphs">1</text>
<line x1="38.3" y1="545.21" x2="47.3" y2="545.21" stroke="#4e4e4e" stroke-width="1.1"/>
<text x="22.04" y="549.79" font-size="13.3" textLength="7.62" lengthAdjust="spacingAndGlyphs">2</text>
<line x1="38.3" y1="524.99" x2="47.3" y2="524.99" stroke="#4e4e4e" stroke-width="1.1"/>
<text x="22.04" y="529.57" font-size="13.3" textLength="7.62" lengthAdjust="spacingAndGlyphs">3</text>
<line x1="70.5" y1="651.3" x2="70.5" y2="659.2" stroke="#4e4e4e" stroke-width="1.1"/>
<text x="54.56" y="680.06" font-size="11.64" textLength="31.25" lengthAdjust="spacingAndGlyphs">1990</text>
<line x1="234.1" y1="651.3" x2="234.1" y2="659.2" stroke="#4e4e4e" stroke-width="1.1"/>
<text x="218.16" y="680.06" font-size="11.64" textLength="31.25" lengthAdjust="spacingAndGlyphs">1995</text>
<line x1="397.7" y1="651.3" x2="397.7" y2="659.2" stroke="#4e4e4e" stroke-width="1.1"/>
<text x="381.76" y="680.06" font-size="11.64" textLength="31.25" lengthAdjust="spacingAndGlyphs">2000</text>
<line x1="561.3" y1="651.3" x2="561.3" y2="659.2" stroke="#4e4e4e" stroke-width="1.1"/>
<text x="545.36" y="680.06" font-size="11.64" textLength="31.25" lengthAdjust="spacingAndGlyphs">2005</text>
<text x="90.39" y="539.52" font-size="12.92" textLength="26.14" lengthAdjust="spacingAndGlyphs" font-weight="bold">JJA</text>
<polygon points="70.5,763.6 103.22,748.7 135.94,743.4 168.66,777.6 201.38,722.9 234.1,721.2 266.82,754.8 299.54,713.7 332.26,738.2 364.98,725 397.7,718 430.42,722.4 463.14,732.4 495.86,766.2 528.58,746.9 561.3,757.4 594.02,745.2 626.74,742.1 659.46,747.2 659.46,768.7 626.74,779.9 594.02,786.1 561.3,791.2 528.58,773.2 495.86,796 463.14,770.6 430.42,768 397.7,767.1 364.98,767.4 332.26,793.4 299.54,813.5 266.82,798.6 234.1,779.7 201.38,781.1 168.66,806.5 135.94,787.2 103.22,787.2 70.5,804.8" fill="#bebebe"/>
<polygon points="70.5,772.3 103.22,756.2 135.94,763.6 168.66,782.9 201.38,739.9 234.1,735.9 266.82,757.4 299.54,728.5 332.26,761.8 364.98,743.4 397.7,736.4 430.42,739.1 463.14,738.2 495.86,775.8 528.58,755.7 561.3,766.6 594.02,754.4 626.74,753.4 659.46,751.3 659.46,760.5 626.74,771.7 594.02,775.8 561.3,783 528.58,768.8 495.86,789.9 463.14,754.8 430.42,759.2 397.7,753.1 364.98,759.2 332.26,785.5 299.54,770.6 266.82,775.8 234.1,763.6 201.38,765 168.66,795.1 135.94,776.7 103.22,778.5 70.5,787.2" fill="#ffff00"/>
<polyline points="70.5,781.1 103.22,784.6 135.94,766.2 168.66,799.5 201.38,755.7 234.1,759.2 266.82,765.7 299.54,741.7 332.26,773.5 364.98,756.9 397.7,764.5 430.42,729.4 463.14,765.3 495.86,798.6 528.58,745.7 561.3,776.9 594.02,735 626.74,761.5 659.46,740.1" fill="none" stroke="#ff0000" stroke-width="1.4" stroke-linejoin="round"/>
<ellipse cx="70.5" cy="781.1" rx="3.85" ry="3.5" fill="#ff0000"/>
<ellipse cx="103.22" cy="784.6" rx="3.85" ry="3.5" fill="#ff0000"/>
<ellipse cx="135.94" cy="766.2" rx="3.85" ry="3.5" fill="#ff0000"/>
<ellipse cx="168.66" cy="799.5" rx="3.85" ry="3.5" fill="#ff0000"/>
<ellipse cx="201.38" cy="755.7" rx="3.85" ry="3.5" fill="#ff0000"/>
<ellipse cx="234.1" cy="759.2" rx="3.85" ry="3.5" fill="#ff0000"/>
<ellipse cx="266.82" cy="765.7" rx="3.85" ry="3.5" fill="#ff0000"/>
<ellipse cx="299.54" cy="741.7" rx="3.85" ry="3.5" fill="#ff0000"/>
<ellipse cx="332.26" cy="773.5" rx="3.85" ry="3.5" fill="#ff0000"/>
<ellipse cx="364.98" cy="756.9" rx="3.85" ry="3.5" fill="#ff0000"/>
<ellipse cx="397.7" cy="764.5" rx="3.85" ry="3.5" fill="#ff0000"/>
<ellipse cx="430.42" cy="729.4" rx="3.85" ry="3.5" fill="#ff0000"/>
<ellipse cx="463.14" cy="765.3" rx="3.85" ry="3.5" fill="#ff0000"/>
<ellipse cx="495.86" cy="798.6" rx="3.85" ry="3.5" fill="#ff0000"/>
<ellipse cx="528.58" cy="745.7" rx="3.85" ry="3.5" fill="#ff0000"/>
<ellipse cx="561.3" cy="776.9" rx="3.85" ry="3.5" fill="#ff0000"/>
<ellipse cx="594.02" cy="735" rx="3.85" ry="3.5" fill="#ff0000"/>
<ellipse cx="626.74" cy="761.5" rx="3.85" ry="3.5" fill="#ff0000"/>
<ellipse cx="659.46" cy="740.1" rx="3.85" ry="3.5" fill="#ff0000"/>
<polyline points="70.5,781.5 103.22,771.5 135.94,775 168.66,806 201.38,754.5 234.1,761 266.82,758.3 299.54,736.4 332.26,774 364.98,743.4 397.7,744.7 430.42,732 463.14,761.5 495.86,782.9 528.58,770.2 561.3,794.6 594.02,738.4 626.74,755 659.46,753.8" fill="none" stroke="#0000ff" stroke-width="1.4" stroke-linejoin="round"/>
<ellipse cx="70.5" cy="781.5" rx="3.85" ry="3.5" fill="#0000ff"/>
<ellipse cx="103.22" cy="771.5" rx="3.85" ry="3.5" fill="#0000ff"/>
<ellipse cx="135.94" cy="775" rx="3.85" ry="3.5" fill="#0000ff"/>
<ellipse cx="168.66" cy="806" rx="3.85" ry="3.5" fill="#0000ff"/>
<ellipse cx="201.38" cy="754.5" rx="3.85" ry="3.5" fill="#0000ff"/>
<ellipse cx="234.1" cy="761" rx="3.85" ry="3.5" fill="#0000ff"/>
<ellipse cx="266.82" cy="758.3" rx="3.85" ry="3.5" fill="#0000ff"/>
<ellipse cx="299.54" cy="736.4" rx="3.85" ry="3.5" fill="#0000ff"/>
<ellipse cx="332.26" cy="774" rx="3.85" ry="3.5" fill="#0000ff"/>
<ellipse cx="364.98" cy="743.4" rx="3.85" ry="3.5" fill="#0000ff"/>
<ellipse cx="397.7" cy="744.7" rx="3.85" ry="3.5" fill="#0000ff"/>
<ellipse cx="430.42" cy="732" rx="3.85" ry="3.5" fill="#0000ff"/>
<ellipse cx="463.14" cy="761.5" rx="3.85" ry="3.5" fill="#0000ff"/>
<ellipse cx="495.86" cy="782.9" rx="3.85" ry="3.5" fill="#0000ff"/>
<ellipse cx="528.58" cy="770.2" rx="3.85" ry="3.5" fill="#0000ff"/>
<ellipse cx="561.3" cy="794.6" rx="3.85" ry="3.5" fill="#0000ff"/>
<ellipse cx="594.02" cy="738.4" rx="3.85" ry="3.5" fill="#0000ff"/>
<ellipse cx="626.74" cy="755" rx="3.85" ry="3.5" fill="#0000ff"/>
<ellipse cx="659.46" cy="753.8" rx="3.85" ry="3.5" fill="#0000ff"/>
<polyline points="70.5,775.3 103.22,776.7 135.94,763.6 168.66,795.6 201.38,761.8 234.1,762.2 266.82,769.2 299.54,734.7 332.26,777.6 364.98,754.5 397.7,760.4 430.42,740.8 463.14,746.4 495.86,793.4 528.58,772 561.3,790.1 594.02,756.4 626.74,739 659.46,721.7" fill="none" stroke="#00ff00" stroke-width="1.4" stroke-linejoin="round"/>
<ellipse cx="70.5" cy="775.3" rx="3.85" ry="3.5" fill="#00ff00"/>
<ellipse cx="103.22" cy="776.7" rx="3.85" ry="3.5" fill="#00ff00"/>
<ellipse cx="135.94" cy="763.6" rx="3.85" ry="3.5" fill="#00ff00"/>
<ellipse cx="168.66" cy="795.6" rx="3.85" ry="3.5" fill="#00ff00"/>
<ellipse cx="201.38" cy="761.8" rx="3.85" ry="3.5" fill="#00ff00"/>
<ellipse cx="234.1" cy="762.2" rx="3.85" ry="3.5" fill="#00ff00"/>
<ellipse cx="266.82" cy="769.2" rx="3.85" ry="3.5" fill="#00ff00"/>
<ellipse cx="299.54" cy="734.7" rx="3.85" ry="3.5" fill="#00ff00"/>
<ellipse cx="332.26" cy="777.6" rx="3.85" ry="3.5" fill="#00ff00"/>
<ellipse cx="364.98" cy="754.5" rx="3.85" ry="3.5" fill="#00ff00"/>
<ellipse cx="397.7" cy="760.4" rx="3.85" ry="3.5" fill="#00ff00"/>
<ellipse cx="430.42" cy="740.8" rx="3.85" ry="3.5" fill="#00ff00"/>
<ellipse cx="463.14" cy="746.4" rx="3.85" ry="3.5" fill="#00ff00"/>
<ellipse cx="495.86" cy="793.4" rx="3.85" ry="3.5" fill="#00ff00"/>
<ellipse cx="528.58" cy="772" rx="3.85" ry="3.5" fill="#00ff00"/>
<ellipse cx="561.3" cy="790.1" rx="3.85" ry="3.5" fill="#00ff00"/>
<ellipse cx="594.02" cy="756.4" rx="3.85" ry="3.5" fill="#00ff00"/>
<ellipse cx="626.74" cy="739" rx="3.85" ry="3.5" fill="#00ff00"/>
<ellipse cx="659.46" cy="721.7" rx="3.85" ry="3.5" fill="#00ff00"/>
<polyline points="70.5,793 103.22,785.5 135.94,783.7 168.66,789.5 201.38,765.3 234.1,766.2 266.82,772.7 299.54,762.2 332.26,782 364.98,766.2 397.7,776.2 430.42,735.9 463.14,768.5 495.86,741.7 528.58,742.6 561.3,766 594.02,731.3 626.74,745.2 659.46,727.2" fill="none" stroke="#00ffff" stroke-width="1.4" stroke-linejoin="round"/>
<ellipse cx="70.5" cy="793" rx="3.85" ry="3.5" fill="#00ffff"/>
<ellipse cx="103.22" cy="785.5" rx="3.85" ry="3.5" fill="#00ffff"/>
<ellipse cx="135.94" cy="783.7" rx="3.85" ry="3.5" fill="#00ffff"/>
<ellipse cx="168.66" cy="789.5" rx="3.85" ry="3.5" fill="#00ffff"/>
<ellipse cx="201.38" cy="765.3" rx="3.85" ry="3.5" fill="#00ffff"/>
<ellipse cx="234.1" cy="766.2" rx="3.85" ry="3.5" fill="#00ffff"/>
<ellipse cx="266.82" cy="772.7" rx="3.85" ry="3.5" fill="#00ffff"/>
<ellipse cx="299.54" cy="762.2" rx="3.85" ry="3.5" fill="#00ffff"/>
<ellipse cx="332.26" cy="782" rx="3.85" ry="3.5" fill="#00ffff"/>
<ellipse cx="364.98" cy="766.2" rx="3.85" ry="3.5" fill="#00ffff"/>
<ellipse cx="397.7" cy="776.2" rx="3.85" ry="3.5" fill="#00ffff"/>
<ellipse cx="430.42" cy="735.9" rx="3.85" ry="3.5" fill="#00ffff"/>
<ellipse cx="463.14" cy="768.5" rx="3.85" ry="3.5" fill="#00ffff"/>
<ellipse cx="495.86" cy="741.7" rx="3.85" ry="3.5" fill="#00ffff"/>
<ellipse cx="528.58" cy="742.6" rx="3.85" ry="3.5" fill="#00ffff"/>
<ellipse cx="561.3" cy="766" rx="3.85" ry="3.5" fill="#00ffff"/>
<ellipse cx="594.02" cy="731.3" rx="3.85" ry="3.5" fill="#00ffff"/>
<ellipse cx="626.74" cy="745.2" rx="3.85" ry="3.5" fill="#00ffff"/>
<ellipse cx="659.46" cy="727.2" rx="3.85" ry="3.5" fill="#00ffff"/>
<polyline points="70.5,789 103.22,769.2 135.94,773.2 168.66,803.9 201.38,745.7 234.1,745.7 266.82,777.6 299.54,755.7 332.26,773.2 364.98,740.8 397.7,732.9 430.42,745.7 463.14,739.9 495.86,794.2 528.58,757.4 561.3,782 594.02,763.2 626.74,755.4 659.46,750.3" fill="none" stroke="#000000" stroke-width="1.4" stroke-linejoin="round"/>
<polygon points="70.5,785.27 74.1,790.87 66.9,790.87" fill="#000"/>
<polygon points="103.22,765.47 106.82,771.07 99.62,771.07" fill="#000"/>
<polygon points="135.94,769.47 139.54,775.07 132.34,775.07" fill="#000"/>
<polygon points="168.66,800.17 172.26,805.77 165.06,805.77" fill="#000"/>
<polygon points="201.38,741.97 204.98,747.57 197.78,747.57" fill="#000"/>
<polygon points="234.1,741.97 237.7,747.57 230.5,747.57" fill="#000"/>
<polygon points="266.82,773.87 270.42,779.47 263.22,779.47" fill="#000"/>
<polygon points="299.54,751.97 303.14,757.57 295.94,757.57" fill="#000"/>
<polygon points="332.26,769.47 335.86,775.07 328.66,775.07" fill="#000"/>
<polygon points="364.98,737.07 368.58,742.67 361.38,742.67" fill="#000"/>
<polygon points="397.7,729.17 401.3,734.77 394.1,734.77" fill="#000"/>
<polygon points="430.42,741.97 434.02,747.57 426.82,747.57" fill="#000"/>
<polygon points="463.14,736.17 466.74,741.77 459.54,741.77" fill="#000"/>
<polygon points="495.86,790.47 499.46,796.07 492.26,796.07" fill="#000"/>
<polygon points="528.58,753.67 532.18,759.27 524.98,759.27" fill="#000"/>
<polygon points="561.3,778.27 564.9,783.87 557.7,783.87" fill="#000"/>
<polygon points="594.02,759.47 597.62,765.07 590.42,765.07" fill="#000"/>
<polygon points="626.74,751.67 630.34,757.27 623.14,757.27" fill="#000"/>
<polygon points="659.46,746.57 663.06,752.17 655.86,752.17" fill="#000"/>
<rect x="47.3" y="687.4" width="635.3" height="141.8" fill="none" stroke="#4e4e4e" stroke-width="1.15"/>
<line x1="38.3" y1="823.99" x2="47.3" y2="823.99" stroke="#4e4e4e" stroke-width="1.1"/>
<text x="17.48" y="828.49" font-size="12.8" textLength="12.18" lengthAdjust="spacingAndGlyphs">-3</text>
<line x1="38.3" y1="803.76" x2="47.3" y2="803.76" stroke="#4e4e4e" stroke-width="1.1"/>
<text x="17.48" y="808.26" font-size="12.8" textLength="12.18" lengthAdjust="spacingAndGlyphs">-2</text>
<line x1="38.3" y1="783.53" x2="47.3" y2="783.53" stroke="#4e4e4e" stroke-width="1.1"/>
<text x="17.48" y="788.03" font-size="12.8" textLength="12.18" lengthAdjust="spacingAndGlyphs">-1</text>
<line x1="38.3" y1="763.3" x2="47.3" y2="763.3" stroke="#4e4e4e" stroke-width="1.1"/>
<text x="22.04" y="767.8" font-size="12.8" textLength="7.61" lengthAdjust="spacingAndGlyphs">0</text>
<line x1="38.3" y1="743.07" x2="47.3" y2="743.07" stroke="#4e4e4e" stroke-width="1.1"/>
<text x="22.04" y="747.57" font-size="12.8" textLength="7.61" lengthAdjust="spacingAndGlyphs">1</text>
<line x1="38.3" y1="722.84" x2="47.3" y2="722.84" stroke="#4e4e4e" stroke-width="1.1"/>
<text x="22.04" y="727.34" font-size="12.8" textLength="7.61" lengthAdjust="spacingAndGlyphs">2</text>
<line x1="38.3" y1="702.61" x2="47.3" y2="702.61" stroke="#4e4e4e" stroke-width="1.1"/>
<text x="22.04" y="707.11" font-size="12.8" textLength="7.61" lengthAdjust="spacingAndGlyphs">3</text>
<line x1="70.5" y1="829.2" x2="70.5" y2="836.5" stroke="#4e4e4e" stroke-width="1.1"/>
<text x="55.11" y="856.93" font-size="10.75" textLength="31.51" lengthAdjust="spacingAndGlyphs">1990</text>
<line x1="234.1" y1="829.2" x2="234.1" y2="836.5" stroke="#4e4e4e" stroke-width="1.1"/>
<text x="218.71" y="856.93" font-size="10.75" textLength="31.51" lengthAdjust="spacingAndGlyphs">1995</text>
<line x1="397.7" y1="829.2" x2="397.7" y2="836.5" stroke="#4e4e4e" stroke-width="1.1"/>
<text x="382.31" y="856.93" font-size="10.75" textLength="31.51" lengthAdjust="spacingAndGlyphs">2000</text>
<line x1="561.3" y1="829.2" x2="561.3" y2="836.5" stroke="#4e4e4e" stroke-width="1.1"/>
<text x="545.91" y="856.93" font-size="10.75" textLength="31.51" lengthAdjust="spacingAndGlyphs">2005</text>
<text x="87.48" y="717.28" font-size="13.86" textLength="31.32" lengthAdjust="spacingAndGlyphs" font-weight="bold">SON</text>
<rect x="364.4" y="33.8" width="46.3" height="5.6" fill="#ffff00" stroke="#404040" stroke-width="1"/>
<rect x="364.4" y="44.6" width="46.3" height="5.6" fill="#bebebe" stroke="#404040" stroke-width="1"/>
<text x="415.07" y="38.61" font-size="13.42" textLength="115.74" lengthAdjust="spacingAndGlyphs">25%-75% (RCMs)</text>
<text x="415.56" y="49.81" font-size="13.43" textLength="115.36" lengthAdjust="spacingAndGlyphs">MIN/MAX (RCMs)</text>
<text x="0" y="0" font-size="14.82" font-weight="bold" textLength="150.11" lengthAdjust="spacingAndGlyphs" transform="translate(12.96,163.81) rotate(-90)">Standardized Anomalies</text>
<text x="0" y="0" font-size="15.07" font-weight="bold" textLength="131.12" lengthAdjust="spacingAndGlyphs" transform="translate(12.35,375.69) rotate(-90)">Standardized Anomalies</text>
<text x="0" y="0" font-size="15.63" font-weight="bold" textLength="142.87" lengthAdjust="spacingAndGlyphs" transform="translate(13.19,717.95) rotate(-90)">Standardized Anomalies</text>
</svg></body></html>
